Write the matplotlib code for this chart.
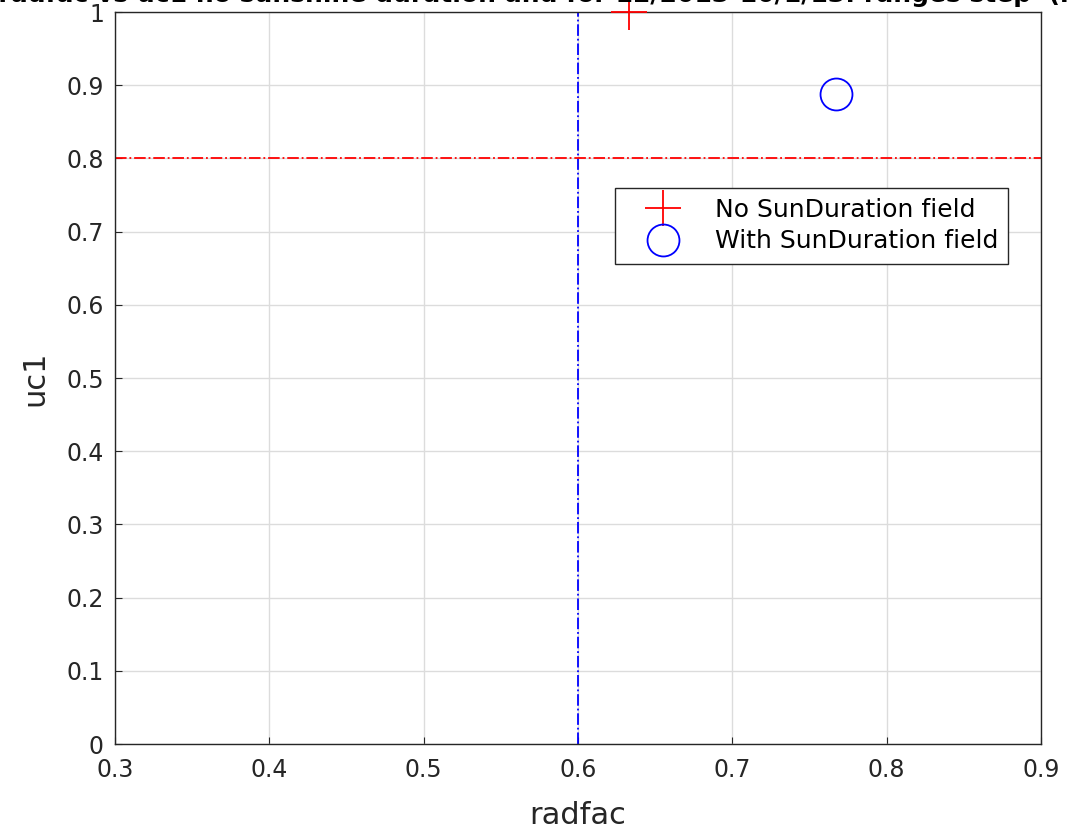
import matplotlib
matplotlib.use('Agg')
import matplotlib.pyplot as plt

# radfac / uc1 pairs for the two runs
radfac_nosun = [0.633]
uc1_nosun = [1.0]
radfac_sun = [0.767]
uc1_sun = [0.888]

# reference thresholds
radfac_ref = 0.6
uc1_ref = 0.8

xticks = [0.3, 0.4, 0.5, 0.6, 0.7, 0.8, 0.9]
yticks = [0, 0.1, 0.2, 0.3, 0.4, 0.5, 0.6, 0.7, 0.8, 0.9, 1]

plt.rcParams['font.family'] = 'DejaVu Sans'

fig = plt.figure(figsize=(10.70, 8.36), dpi=100)
ax = fig.add_axes([115/1070., 1-744/836., 926/1070., 732/836.])

ax.plot(radfac_nosun, uc1_nosun, '+', color='red', markersize=26, markeredgewidth=1.3,
        clip_on=False, label='No SunDuration field', zorder=5)
ax.plot(radfac_sun, uc1_sun, 'o', color='blue', markerfacecolor='none', markersize=23,
        markeredgewidth=1.3, clip_on=False, label='With SunDuration field', zorder=5)

ax.axvline(radfac_ref, color='blue', linestyle='-.', linewidth=1.3)
ax.axhline(uc1_ref, color='red', linestyle='-.', linewidth=1.3)

ax.set_xlim(0.3, 0.9)
ax.set_ylim(0, 1)
ax.set_xticks(xticks)
ax.set_yticks(yticks)
ax.set_xticklabels(['%g' % t for t in xticks])
ax.set_yticklabels(['%g' % t for t in yticks])
ax.tick_params(direction='in', length=5, labelsize=17, colors='#262626')
ax.tick_params(axis='x', pad=10)
ax.tick_params(axis='y', pad=8)
ax.grid(True, color='#dcdcdc', linewidth=1)
ax.set_axisbelow(True)
for s in ax.spines.values():
    s.set_color('#262626')
    s.set_linewidth(1)

ax.set_xlabel('radfac', fontsize=22, color='#262626', labelpad=14)
ax.set_ylabel('uc1', fontsize=22, color='#262626', labelpad=12)

fig.text(0.5, 1.006, 'UC radfac vs uc1 no sunshine duration and for 12/2013-10/1/13: ranges step  (max',
         ha='center', va='center', fontsize=18, fontweight='bold')

leg = ax.legend(loc='upper left', bbox_to_anchor=(500/926., 1-176/732.), fontsize=18,
                fancybox=False, framealpha=1, edgecolor='#262626', borderpad=0.4,
                handlelength=3.0, handletextpad=0.6, labelspacing=0.3, borderaxespad=0)
leg.get_frame().set_linewidth(1)

fig.savefig('out.png', dpi=100)
